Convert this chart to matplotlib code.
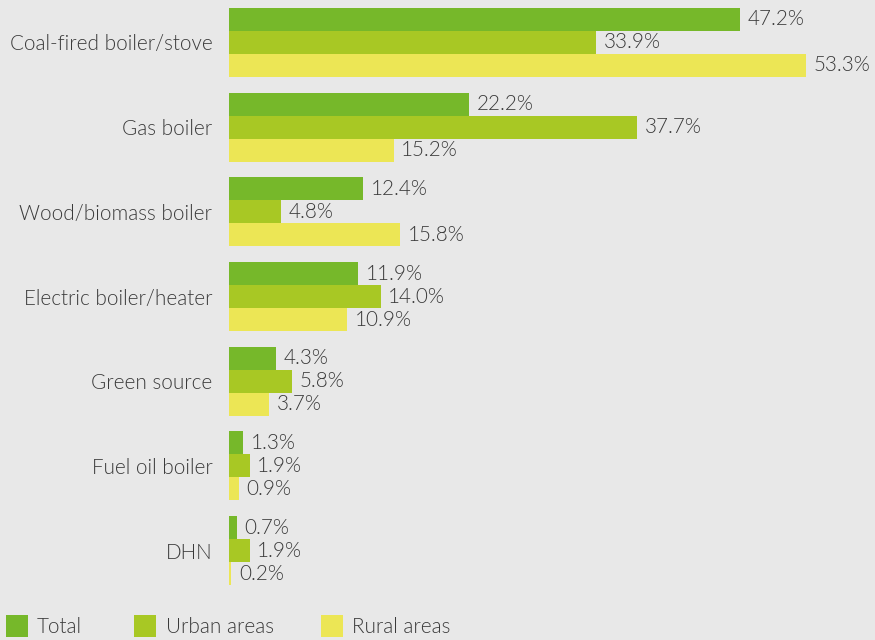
import matplotlib.pyplot as plt
from matplotlib.patches import Rectangle

# Main heating source shares (%) by household type
categories = [
    "Coal-fired boiler/stove",
    "Gas boiler",
    "Wood/biomass boiler",
    "Electric boiler/heater",
    "Green source",
    "Fuel oil boiler",
    "DHN",
]
total = [47.2, 22.2, 12.4, 11.9, 4.3, 1.3, 0.7]
urban = [33.9, 37.7, 4.8, 14.0, 5.8, 1.9, 1.9]
rural = [53.3, 15.2, 15.8, 10.9, 3.7, 0.9, 0.2]
series_names = ["Total", "Urban areas", "Rural areas"]

COLORS = ["#76b82a", "#a8c824", "#ece655"]
BG = "#e8e8e8"
TEXT = "#3a3a3a"
FS = 14.9
WEIGHT = 300   # Lato Light

plt.rcParams["font.family"] = ["Lato", "DejaVu Sans"]

W, H, DPI = 875, 640, 100
fig = plt.figure(figsize=(W / DPI, H / DPI), dpi=DPI, facecolor=BG)

# axes spans full height; x origin sits at 229 px
ax = fig.add_axes([229 / W, 0, 1 - 229 / W, 1])
ax.set_facecolor(BG)

pitch = 84.67      # px between group centres
first = 42.5       # px from top to first group centre
bar_h = 23 / pitch

series = [total, urban, rural]
for k, (vals, col) in enumerate(zip(series, COLORS)):
    ys = [i + (k - 1) * bar_h for i in range(len(categories))]
    ax.barh(ys, vals, height=bar_h, color=col, linewidth=0)
    for y, v in zip(ys, vals):
        ax.annotate(f"{v:.1f}%", (v, y), xytext=(5.5, 0), textcoords="offset points",
                    va="center", ha="left", fontsize=FS, color=TEXT,
                    fontweight=WEIGHT)

px_per_unit = (806 - 229) / 53.3
ax.set_xlim(0, (W - 229) / px_per_unit)
ax.set_ylim((H - first) / pitch, -first / pitch)

ax.set_yticks(range(len(categories)))
ax.set_yticklabels(categories, fontsize=FS, color=TEXT, fontweight=WEIGHT)
ax.tick_params(axis="y", length=0, pad=12)
ax.set_xticks([])
for s in ax.spines.values():
    s.set_visible(False)

# legend along the bottom edge
legend_x = [(6, 37), (134, 166), (321, 352)]
for (sx, tx), name, col in zip(legend_x, series_names, COLORS):
    fig.add_artist(Rectangle((sx / W, 1 - 637 / H), 22 / W, 22 / H,
                             transform=fig.transFigure, color=col, lw=0))
    fig.text(tx / W, 1 - 627 / H, name, fontsize=FS, color=TEXT,
             fontweight=WEIGHT, va="center", ha="left")

fig.savefig("out.png", dpi=DPI, facecolor=BG)
